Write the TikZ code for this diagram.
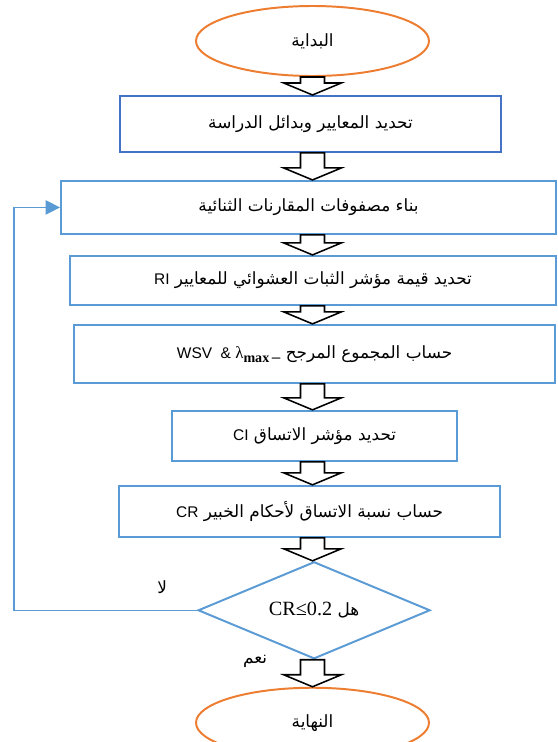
\documentclass[tikz,border=0pt]{standalone}
\usepackage{fontspec}
\setmainfont{Liberation Sans}
\newfontfamily\arabicfont[Script=Arabic,Scale=1.2]{DejaVu Sans}
\newfontfamily\seriffont{Liberation Serif}
\TeXXeTstate=1
\usetikzlibrary{arrows.meta,calc,positioning,shapes.geometric}
\definecolor{edgeOrange}{RGB}{237,125,49}
\definecolor{edgeBlue}{RGB}{68,114,196}
\definecolor{edgeSky}{RGB}{91,155,213}
\newcommand{\artext}[1]{{\arabicfont\beginR #1\endR}}
\newcommand{\hollowstep}[2]{%
  \draw[hollow] let \p1=(start.center |- #1.south), \p2=(start.center |- #2.north) in
    (\x1-0.3cm,\y1) -- (\x1-0.3cm,\y2+0.3cm) -- (\x1-0.72cm,\y2+0.3cm) -- (\x1,\y2)
    -- (\x1+0.72cm,\y2+0.3cm) -- (\x1+0.3cm,\y2+0.3cm) -- (\x1+0.3cm,\y1) -- cycle;}

\begin{document}
\begin{tikzpicture}[
    font=\normalsize,
    terminal/.style={
      ellipse,
      draw=edgeOrange,
      line width=1.4pt,
      minimum width=5.825cm,
      minimum height=1.75cm,
      inner sep=0pt
    },
    process/.style={
      rectangle,
      draw=edgeSky,
      line width=1.4pt,
      inner sep=0pt
    },
    decision/.style={
      diamond,
      aspect=2.4,
      draw=edgeSky,
      line width=1.4pt,
      minimum width=5.8cm,
      minimum height=2.425cm,
      inner sep=0pt
    },
    hollow/.style={draw=black, line width=1.1pt, fill=white, line join=miter},
    back/.style={-{Triangle[length=3.6mm,width=3.6mm]}, draw=edgeSky, line width=0.8pt},
    tag/.style={inner sep=1pt}
  ]
    \useasboundingbox (0,0) rectangle (13.95,-18.55);

    \node[terminal] (start) at (7.8125,-1.025) {\artext{البداية}};
    \node[process, draw=edgeBlue, minimum width=9.525cm, minimum height=1.4cm,
      below=0.45cm of start, xshift=-0.05cm] (criteria)
      {\artext{تحديد المعايير وبدائل الدراسة}};
    \node[process, minimum width=12.375cm, minimum height=1.325cm,
      below=0.675cm of criteria, xshift=-0.05cm] (pairwise)
      {\artext{بناء مصفوفات المقارنات الثنائية}};
    \node[process, minimum width=12.15cm, minimum height=1.225cm,
      below=0.5cm of pairwise, xshift=0.1125cm] (randomidx)
      {\artext{تحديد قيمة مؤشر الثبات العشوائي للمعايير \beginL{\rmfamily\fontsize{11}{13}\selectfont RI}\endL}};
    \node[process, minimum width=12.025cm, minimum height=1.45cm,
      below=0.45cm of randomidx, xshift=0.04cm] (weighted)
      {\artext{حساب المجموع المرجح \beginL{\rmfamily\fontsize{11}{13}\selectfont WSV\ \ \& {\seriffont\large λ\raisebox{-0.5ex}{\normalsize\bfseries max}}\,\raisebox{-0.5ex}{–}}\endL}};
    \node[process, minimum width=7.125cm, minimum height=1.25cm,
      below=0.65cm of weighted] (consist)
      {\artext{تحديد مؤشر الاتساق \beginL{\rmfamily\fontsize{11}{13}\selectfont CI}\endL}};
    \node[process, minimum width=9.525cm, minimum height=1.275cm,
      below=0.575cm of consist, xshift=-0.125cm] (ratio)
      {\artext{حساب نسبة الاتساق لأحكام الخبير \beginL{\rmfamily\fontsize{11}{13}\selectfont CR}\endL}};
    \node[decision, below=0.575cm of ratio, xshift=0.1125cm] (check)
      {\artext{هل \beginL{\seriffont\Large CR≤0.2}\endL}};
    \node[terminal, below=0.675cm of check, xshift=-0.04cm] (finish) {\artext{النهاية}};

    \hollowstep{start}{criteria}
    \hollowstep{criteria}{pairwise}
    \hollowstep{pairwise}{randomidx}
    \hollowstep{randomidx}{weighted}
    \hollowstep{weighted}{consist}
    \hollowstep{consist}{ratio}
    \hollowstep{ratio}{check}
    \hollowstep{check}{finish}

    % back to the pairwise step when the ratio is too high
    \coordinate (turn) at (0.35,0);
    \draw[back] (check.west) -- (check.west -| turn) |- (pairwise.west);

    \node[tag] (no) at ([xshift=-0.875cm,yshift=0.575cm]check.west) {\artext{لا}};
    \node[tag] (yes) at ([xshift=-1.475cm,yshift=-0.05cm]check.south) {\artext{نعم}};
  \end{tikzpicture}
\end{document}
